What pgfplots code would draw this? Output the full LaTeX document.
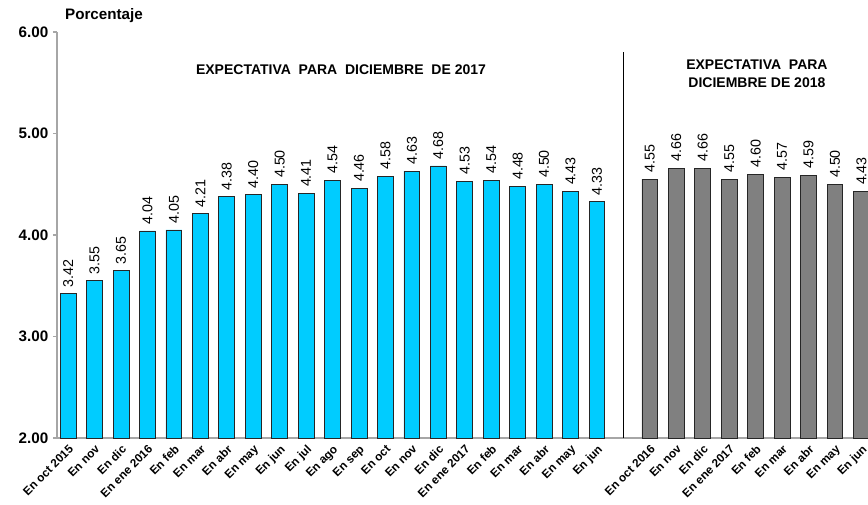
\documentclass[border=0pt]{standalone}
\usepackage{fontspec}
\setmainfont{Liberation Sans}
\usepackage{pgfplots}
\pgfplotsset{compat=1.18}
\definecolor{cyanbar}{HTML}{00CCFF}
\definecolor{graybar}{HTML}{808080}
\definecolor{axgray}{HTML}{A6A6A6}
\begin{document}
\begin{tikzpicture}[x=1pt,y=1pt]
\path[use as bounding box] (0,0) rectangle (651,378);
\begin{axis}[
  at={(42.75pt,49.5pt)}, anchor=south west,
  scale only axis, width=608.25pt, height=304.5pt,
  xmin=-0.42, xmax=30.25, ymin=2, ymax=6,
  axis x line=bottom, axis y line=left,
  axis line style={axgray, line width=0.9pt, -},
  ytick={2,3,4,5,6},
  tick align=outside, major tick length=3pt,
  major y tick style={axgray, line width=0.8pt},
  major x tick style={draw=none},
  /pgf/number format/assume math mode=true,
  yticklabel style={font=\bfseries\fontsize{11.4}{13}\selectfont,
    /pgf/number format/fixed, /pgf/number format/fixed zerofill, /pgf/number format/precision=2},
  xtick={0,1,2,3,4,5,6,7,8,9,10,11,12,13,14,15,16,17,18,19,20,22,23,24,25,26,27,28,29,30},
  xticklabels={En oct 2015,En nov,En dic,En ene 2016,En feb,En mar,En abr,En may,En jun,En jul,En ago,En sep,En oct,En nov,En dic,En ene 2017,En feb,En mar,En abr,En may,En jun,En oct 2016,En nov,En dic,En ene 2017,En feb,En mar,En abr,En may,En jun},
  xticklabel style={rotate=45, anchor=north east, font=\bfseries\fontsize{8.8}{10}\selectfont, inner sep=1pt},
  ybar, bar width=0.6, bar shift=0pt,
  nodes near coords,
  every node near coord/.append style={rotate=90, anchor=west, inner xsep=4.5pt, font=\fontsize{10.7}{12}\selectfont,
    /pgf/number format/fixed, /pgf/number format/fixed zerofill, /pgf/number format/precision=2},
]
\addplot[fill=cyanbar, draw=black!85, line width=0.6pt] coordinates {
(0,3.42) (1,3.55) (2,3.65) (3,4.04) (4,4.05) (5,4.21) (6,4.38) (7,4.40) (8,4.50) (9,4.41)
(10,4.54) (11,4.46) (12,4.58) (13,4.63) (14,4.68) (15,4.53) (16,4.54) (17,4.48) (18,4.50) (19,4.43) (20,4.33)};
\addplot[fill=graybar, draw=black!85, line width=0.6pt] coordinates {
(22,4.55) (23,4.66) (24,4.66) (25,4.55) (26,4.60) (27,4.57) (28,4.59) (29,4.50) (30,4.43)};
\draw[black, line width=1pt] (axis cs:21,2) -- (axis cs:21,5.80);
\node[font=\bfseries\fontsize{10.5}{12}\selectfont] at (axis cs:10.32,5.626) {EXPECTATIVA\ \ PARA\ \ DICIEMBRE\ \ DE 2017};
\node[font=\bfseries\fontsize{10.5}{13.5}\selectfont, align=center] at (axis cs:26.05,5.586) {EXPECTATIVA\ \ PARA\\DICIEMBRE DE 2018};
\end{axis}
\node[font=\bfseries\fontsize{11.4}{13}\selectfont] at (78pt,366.5pt) {Porcentaje};
\end{tikzpicture}
\end{document}
